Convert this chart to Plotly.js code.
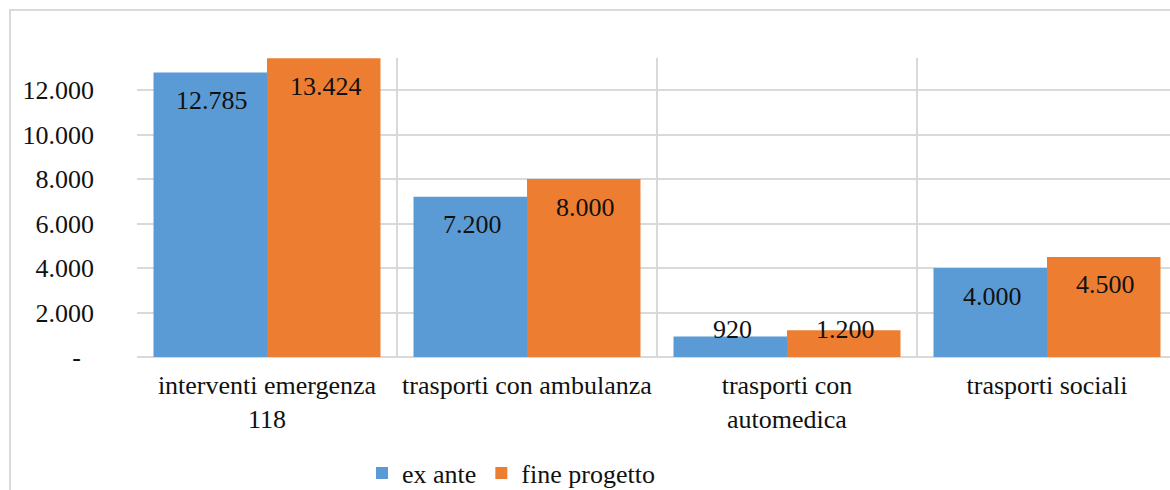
<!DOCTYPE html>
<html>
<head>
<meta charset="utf-8">
<script src="https://cdn.plot.ly/plotly-3.0.1.min.js"></script>
<style>html,body{margin:0;padding:0;background:#fff;}#chart{width:1170px;height:490px;}</style>
</head>
<body>
<div id="chart"></div>
<script>
var categories = ["interventi emergenza<br>118", "trasporti con ambulanza", "trasporti con<br>automedica", "trasporti sociali"];
var exAnte = [12785, 7200, 920, 4000];
var fineProgetto = [13424, 8000, 1200, 4500];
var seriesNames = ["ex ante", "fine progetto"];
var yTickVals = [0, 2000, 4000, 6000, 8000, 10000, 12000];
var yTickText = ["-\u00a0\u00a0", "2.000", "4.000", "6.000", "8.000", "10.000", "12.000"];

function fmt(v) {
  return v.toString().replace(/\B(?=(\d{3})+(?!\d))/g, ".");
}

var W = 1170, H = 490;
var mL = 137, mR = 0, mT = 58, mB = 133;
var yMax = 13440;
var plotH = H - mT - mB;
var pxPerUnit = plotH / yMax;
var barHalf = 56.75;
var labelOff = 28;

var blue = "#5B9BD5", orange = "#ED7D31";
var fontFam = "Liberation Serif, Tinos, Times, DejaVu Serif";

var traces = [
  {type: "bar", name: seriesNames[0], x: categories, y: exAnte, marker: {color: blue}, hoverinfo: "none"},
  {type: "bar", name: seriesNames[1], x: categories, y: fineProgetto, marker: {color: orange}, hoverinfo: "none"}
];

var annotations = [];
[exAnte, fineProgetto].forEach(function (vals, si) {
  vals.forEach(function (v, i) {
    var tall = v * pxPerUnit > 2 * labelOff;
    annotations.push({
      x: categories[i], y: tall ? v : 0, xref: "x", yref: "y",
      text: fmt(v), showarrow: false,
      xshift: si === 0 ? -barHalf + 2 : barHalf + 2,
      yshift: tall ? -labelOff : labelOff,
      xanchor: "center", yanchor: "middle",
      font: {family: fontFam, size: 26, color: "#111"}
    });
  });
});

var pw = W - mL - mR;
var layout = {
  width: W, height: H,
  margin: {l: mL, r: mR, t: mT, b: mB, pad: 0, autoexpand: false},
  paper_bgcolor: "#fff", plot_bgcolor: "#fff",
  font: {family: fontFam, size: 26, color: "#111"},
  barmode: "group", bargap: 0.127, bargroupgap: 0,
  showlegend: true,
  legend: {
    orientation: "h", xref: "container", yref: "container",
    x: 362 / W, xanchor: "left",
    y: 1 - 473 / H, yanchor: "middle",
    font: {family: fontFam, size: 26, color: "#111"},
    bgcolor: "rgba(0,0,0,0)"
  },
  xaxis: {
    type: "category",
    range: [-0.5, 3.5 - 7 / 260],
    tickson: "boundaries",
    showgrid: true, gridcolor: "#d9d9d9", gridwidth: 2,
    ticks: "", showline: false, zeroline: false,
    ticklabelstandoff: 10,
    tickfont: {family: fontFam, size: 26, color: "#111"},
    fixedrange: true
  },
  yaxis: {
    range: [0, yMax],
    tickmode: "array", tickvals: yTickVals, ticktext: yTickText,
    showgrid: true, gridcolor: "#d9d9d9", gridwidth: 2,
    zeroline: true, zerolinecolor: "#d9d9d9", zerolinewidth: 2,
    ticks: "", showline: false,
    ticklabelstandoff: 42,
    tickfont: {family: fontFam, size: 26, color: "#111"},
    fixedrange: true
  },
  annotations: annotations,
  shapes: [{
    type: "rect", xref: "paper", yref: "paper", layer: "below",
    x0: (10 - mL) / pw, x1: 1.2,
    y0: -0.6, y1: (H - mB - 10) / plotH,
    line: {color: "#d9d9d9", width: 2}, fillcolor: "rgba(0,0,0,0)"
  }]
};

Plotly.newPlot("chart", traces, layout, {displayModeBar: false, staticPlot: true});
</script>
</body>
</html>
